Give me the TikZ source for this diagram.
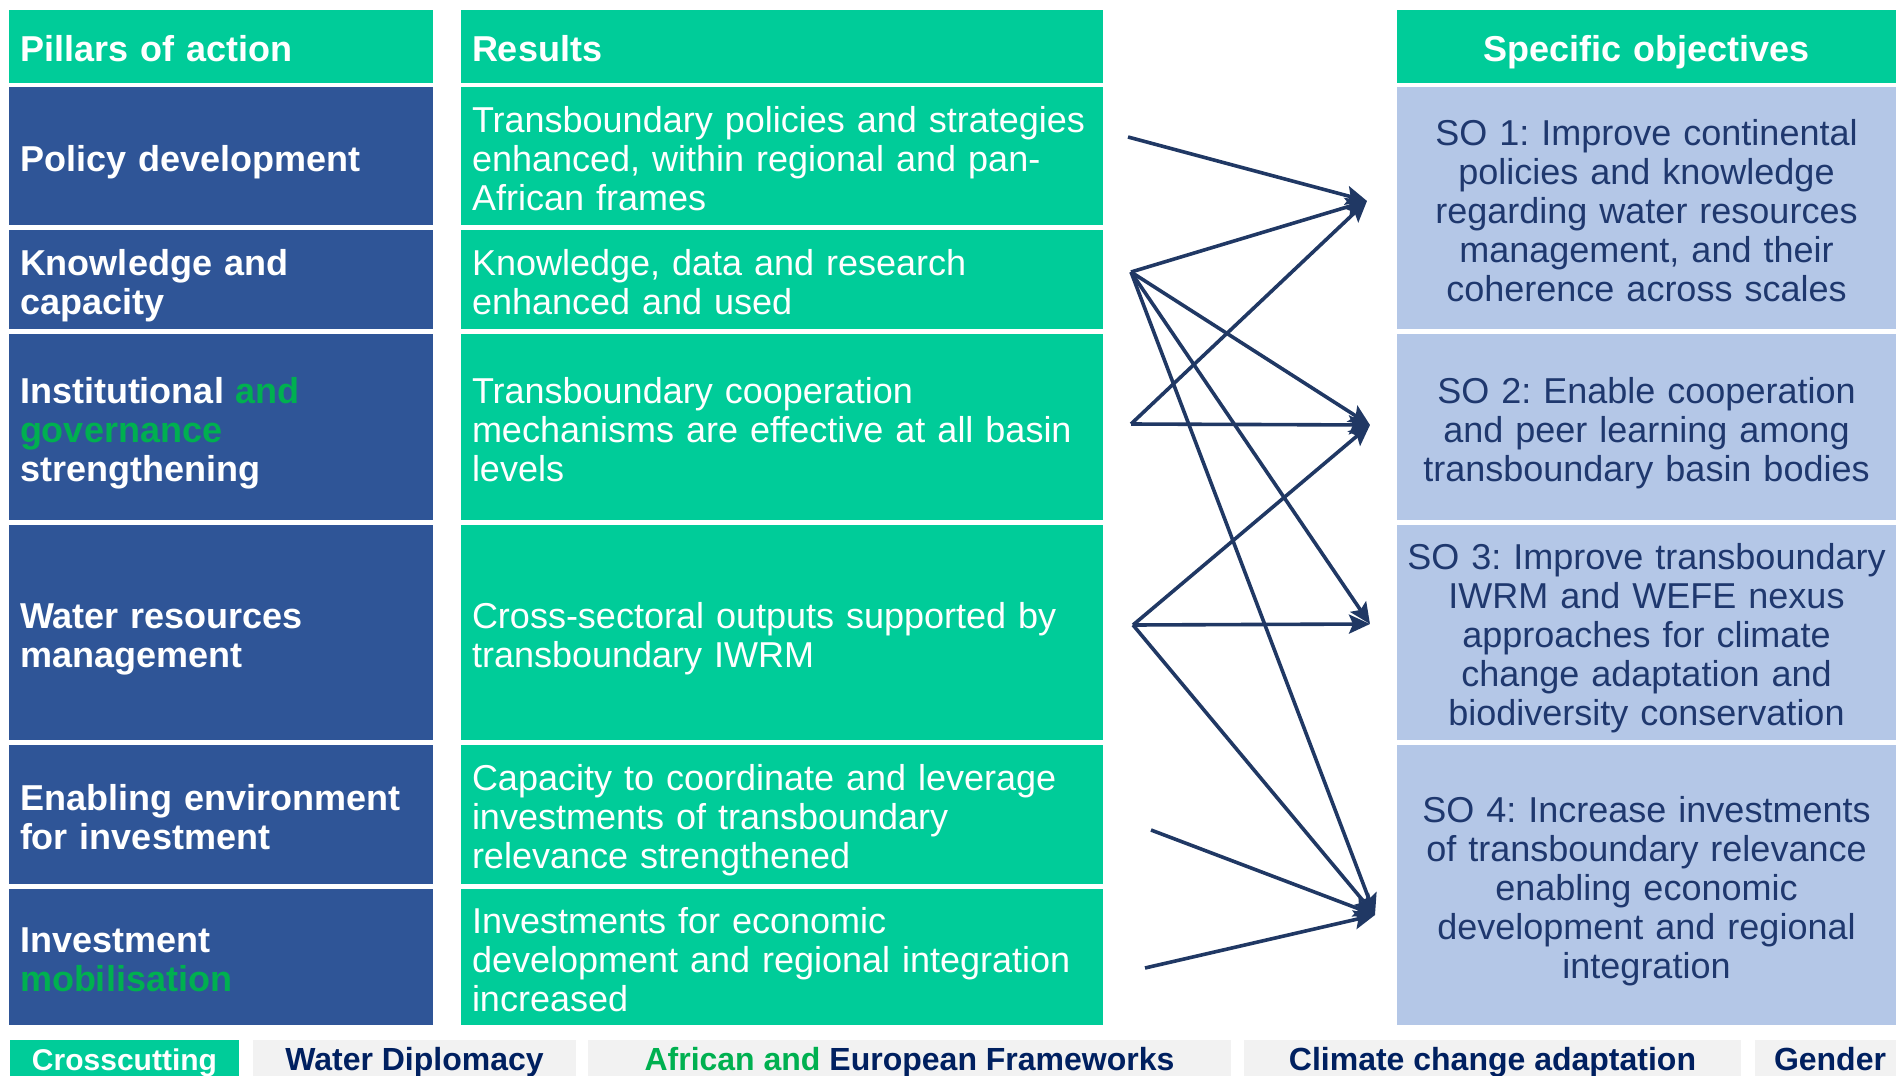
\documentclass[tikz,border=0pt]{standalone}
\usepackage{fontspec}
\setmainfont{Liberation Sans}
\usetikzlibrary{arrows.meta}
\frenchspacing
\definecolor{tgreen}{RGB}{0,204,153}
\definecolor{pblue}{RGB}{47,85,151}
\definecolor{solight}{RGB}{180,199,231}
\definecolor{sotext}{RGB}{31,56,110}
\definecolor{arrowc}{RGB}{32,56,100}
\definecolor{accent}{RGB}{0,176,80}
\definecolor{navy}{RGB}{0,32,96}
\definecolor{barg}{RGB}{242,242,242}
\begin{document}
\begin{tikzpicture}[x=0.5pt,y=-0.5pt,
  basebox/.style={anchor=north west, inner ysep=0pt, outer sep=0pt, font=\fontsize{18}{19.5}\selectfont\frenchspacing,
    execute at begin node={\rule{0pt}{16.5pt}}, text depth=1.5pt},
  twolines/.style={text depth=21pt},
  threelines/.style={text depth=40.5pt},
  fivelines/.style={text depth=79.5pt},
  pillarbox/.style={basebox, fill=pblue, text=white, inner xsep=5.5pt, text width=201pt, align=left, font=\fontsize{18}{19.5}\selectfont\bfseries},
  resbox/.style={basebox, fill=tgreen, text=white, inner xsep=5.5pt, text width=310pt, align=left},
  sobox/.style={basebox, fill=solight, text=sotext, inner xsep=2pt, text width=245.5pt, align=center},
  headbox/.style={fill=tgreen, text=white, font=\fontsize{18}{19.5}\selectfont\bfseries, minimum height=36.5pt},
  barbox/.style={anchor=north west, inner sep=0pt, outer sep=0pt, minimum height=19pt, fill=barg, text=navy,
    font=\fontsize{16}{18}\selectfont\bfseries, text height=11.5pt, text depth=0pt},
  linkarrow/.style={draw=arrowc, line width=1.8pt, -{Stealth[length=10.5pt,width=9.5pt,inset=2pt]}}
]
\useasboundingbox (0,0) rectangle (1896,1076);

% headers
\node[pillarbox, headbox] (hp) at (9,10) {Pillars of action};
\node[resbox, headbox] (hr) at (461,10) {Results};
\node[sobox, headbox] (hs) at (1397,10) {Specific objectives};

% pillars
\node[pillarbox, minimum height=69pt] (p1) at (9,87) {Policy development};
\node[pillarbox, twolines, minimum height=49.5pt] (p2) at (9,230) {Knowledge and\\capacity};
\node[pillarbox, threelines, minimum height=93pt] (p3) at (9,334) {Institutional \textcolor{accent}{and}\\\textcolor{accent}{governance}\\strengthening};
\node[pillarbox, twolines, minimum height=107.5pt] (p4) at (9,525) {Water resources\\management};
\node[pillarbox, twolines, minimum height=69.5pt] (p5) at (9,745) {Enabling environment\\for investment};
\node[pillarbox, twolines, minimum height=68pt] (p6) at (9,889) {Investment\\\textcolor{accent}{mobilisation}};

% results
\node[resbox, threelines, minimum height=69pt] (r1) at (461,87) {Transboundary policies and strategies\\enhanced, within regional and pan-\\African frames};
\node[resbox, twolines, minimum height=49.5pt] (r2) at (461,230) {Knowledge, data and research\\enhanced and used};
\node[resbox, threelines, minimum height=93pt] (r3) at (461,334) {Transboundary cooperation\\mechanisms are effective at all basin\\levels};
\node[resbox, twolines, minimum height=107.5pt] (r4) at (461,525) {Cross-sectoral outputs supported by\\transboundary IWRM};
\node[resbox, threelines, minimum height=69.5pt] (r5) at (461,745) {Capacity to coordinate and leverage\\investments of transboundary\\relevance strengthened};
\node[resbox, threelines, minimum height=68pt] (r6) at (461,889) {Investments for economic\\development and regional integration\\increased};

% specific objectives
\node[sobox, fivelines, minimum height=121pt] (o1) at (1397,87) {SO 1: Improve continental\\policies and knowledge\\regarding water resources\\management, and their\\coherence across scales};
\node[sobox, threelines, minimum height=93pt] (o2) at (1397,334) {SO 2: Enable cooperation\\and peer learning among\\transboundary basin bodies};
\node[sobox, fivelines, minimum height=107.5pt] (o3) at (1397,525) {SO 3: Improve transboundary\\IWRM and WEFE nexus\\approaches for climate\\change adaptation and\\biodiversity conservation};
\node[sobox, fivelines, minimum height=140pt] (o4) at (1397,745) {SO 4: Increase investments\\of transboundary relevance\\enabling economic\\development and regional\\integration};

% crosscutting bar
\node[barbox, fill=tgreen, text=white, minimum width=114.5pt, font=\fontsize{15}{17}\selectfont\bfseries, text height=11pt] (b1) at (10,1040) {Crosscutting};
\node[barbox, minimum width=161.5pt] (b2) at (253,1040) {Water Diplomacy};
\node[barbox, minimum width=321.5pt] (b3) at (588,1040) {\textcolor{accent}{African and} European Frameworks};
\node[barbox, minimum width=248.5pt] (b4) at (1244,1040) {Climate change adaptation};
\node[barbox, minimum width=75pt] (b5) at (1755,1040) {Gender};

% arrow ends
\coordinate (s1) at (1128,137);
\coordinate (s2) at (1131,272);
\coordinate (s3) at (1131,424);
\coordinate (s4) at (1133,625);
\coordinate (s5) at (1151,830);
\coordinate (s6) at (1145,968);
\coordinate (t1) at (1367,201);
\coordinate (t2) at (1370,425);
\coordinate (t3) at (1370,624);
\coordinate (t4) at (1375,915);

\draw[linkarrow] (s1) -- (t1);
\draw[linkarrow] (s2) -- (t1);
\draw[linkarrow] (s2) -- (t2);
\draw[linkarrow] (s2) -- (t3);
\draw[linkarrow] (s2) -- (t4);
\draw[linkarrow] (s3) -- (t1);
\draw[linkarrow] (s3) -- (t2);
\draw[linkarrow] (s4) -- (t2);
\draw[linkarrow] (s4) -- (t3);
\draw[linkarrow] (s4) -- (t4);
\draw[linkarrow] (s5) -- (t4);
\draw[linkarrow] (s6) -- (t4);
\end{tikzpicture}
\end{document}
